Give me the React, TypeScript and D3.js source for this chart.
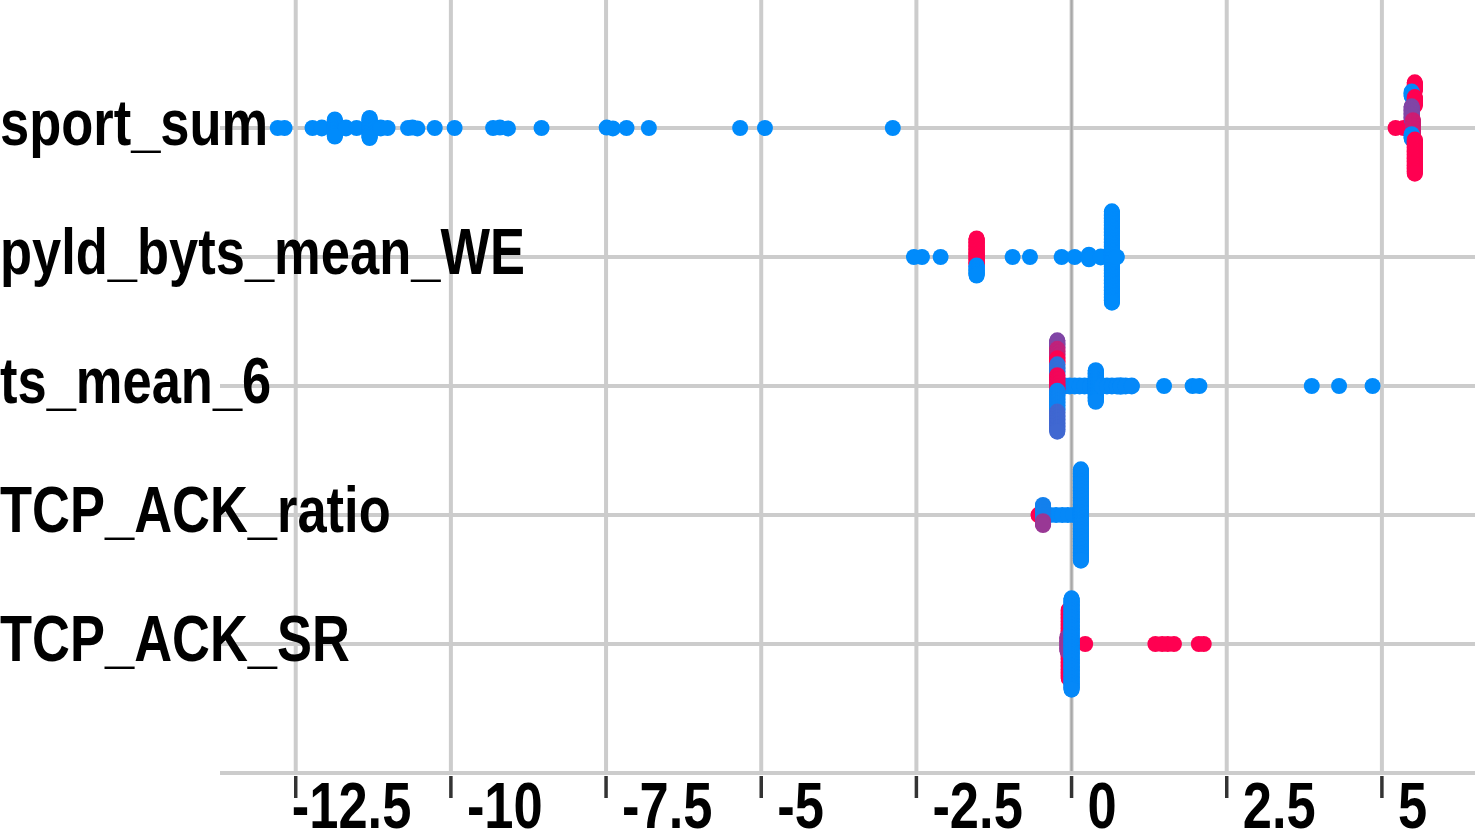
import * as d3 from "d3";

const features = ["sport_sum", "pyld_byts_mean_WE", "ts_mean_6", "TCP_ACK_ratio", "TCP_ACK_SR"];
const xTicks = [-12.5, -10, -7.5, -5, -2.5, 0, 2.5, 5];
const xTickLabels = ["-12.5", "-10", "-7.5", "-5", "-2.5", "0", "2.5", "5"];

// [shap value, feature value (0 = low, 1 = high), number of samples]
// groups that land in one bin are stacked top to bottom in the order listed
const sportSum = [
  [-12.79, 0, 1], [-12.68, 0, 1],
  [-12.23, 0, 1], [-12.08, 0, 2], [-11.87, 0, 23], [-11.69, 0, 2], [-11.52, 0, 1],
  [-11.31, 0, 27], [-11.13, 0, 2], [-11.02, 0, 1],
  [-10.69, 0, 1], [-10.62, 0, 1], [-10.54, 0, 1], [-10.26, 0, 1], [-9.94, 0, 1],
  [-9.32, 0, 1], [-9.21, 0, 1], [-9.08, 0, 1], [-8.54, 0, 1],
  [-7.49, 0, 1], [-7.39, 0, 1], [-7.17, 0, 1], [-6.81, 0, 1],
  [-5.34, 0, 1], [-4.94, 0, 1], [-2.88, 0, 1],
  [5.22, 1, 1], [5.35, 1, 1],
  [5.53, 1, 12], [5.48, 0, 7], [5.53, 1, 12], [5.48, 0.5, 18], [5.5, 0.8, 18], [5.48, 0, 7], [5.53, 1, 45],
];
const pyldBytsMeanWE = [
  [-2.54, 0, 1], [-2.41, 0, 1], [-2.11, 0, 1],
  [-1.53, 1, 35], [-1.53, 0, 14],
  [-0.95, 0, 1], [-0.67, 0, 1], [-0.16, 0, 1], [0.05, 0, 1], [0.28, 0, 7], [0.47, 0, 2],
  [0.65, 0, 119], [0.73, 0, 1],
];
const tsMean6 = [
  [-0.11, 0.02, 2], [-0.03, 0.02, 2], [0.05, 0.02, 2], [0.13, 0.02, 2], [0.21, 0.02, 2], [0.3, 0.02, 2],
  [0.39, 0.02, 42],
  [0.49, 0.02, 2], [0.57, 0.02, 2], [0.65, 0.02, 2], [0.73, 0.02, 2], [0.79, 0.02, 3], [0.87, 0.02, 2], [0.97, 0.02, 2],
  [1.49, 0, 1], [1.95, 0, 1], [2.06, 0, 1], [3.87, 0, 1], [4.31, 0, 1], [4.85, 0, 1],
  [-0.23, 0.5, 11], [-0.23, 0.75, 12], [-0.23, 1, 8], [-0.23, 0.2, 14], [-0.23, 0.95, 20], [-0.23, 0.05, 27], [-0.23, 0.25, 27],
];
const tcpAckRatio = [
  [-0.53, 1, 2],
  [-0.35, 0.02, 1], [-0.25, 0.02, 1], [-0.15, 0.02, 1], [-0.06, 0.02, 1], [0.03, 0.02, 1],
  [-0.46, 0.08, 21], [-0.46, 0.6, 6],
  [0.15, 0.02, 119],
];
const tcpAckSR = [
  [-0.045, 1, 90], [-0.065, 0.6, 20],
  [0.22, 1, 1], [1.35, 1, 1], [1.46, 1, 1], [1.55, 1, 1], [1.65, 1, 1], [2.05, 1, 1], [2.13, 1, 1],
  [0, 0.02, 119],
];
const featureData = [sportSum, pyldBytsMeanWE, tsMean6, tcpAckRatio, tcpAckSR];

const W = 1475;
const H = 829;
const FONT = "'Liberation Sans', Arial, sans-serif";

const color = d3.interpolateRgb("#008bfb", "#ff0051");

// shap-style beeswarm: quantize into 100 bins, stack each bin, scale to 0.9 * row_height
function swarm(groups, row) {
  const pts = [];
  groups.forEach(([v, c, n]) => {
    for (let i = 0; i < n; i++) pts.push({ v, c, row, off: 0, dy: 0 });
  });
  const lo = d3.min(pts, (p) => p.v);
  const hi = d3.max(pts, (p) => p.v);
  const bins = d3.group(pts, (p) => Math.round((100 * (p.v - lo)) / (hi - lo + 1e-8)));
  let maxOff = 0;
  bins.forEach((list) => {
    list.forEach((p, k) => {
      p.off = (list.length - 1) / 2 - k;
      maxOff = Math.max(maxOff, Math.abs(p.off));
    });
  });
  pts.forEach((p) => {
    p.dy = (p.off * 0.9 * 0.4) / (maxOff + 1);
  });
  return pts;
}

export default function App() {
  const x = d3.scaleLinear().domain([-13.72, 6.5]).range([220, 1475]);
  const y = d3.scaleLinear().domain([0, features.length - 1]).range([128, 644]);
  const axisY = 773;

  const points = featureData.flatMap((g, i) => swarm(g, i));

  return (
    <div style={{ position: "absolute", left: 0, top: 0 }}>
      <svg width={W} height={H} style={{ display: "block", background: "#fff" }}>
        {/* horizontal grid */}
        {features.map((f, i) => (
          <line key={f} x1={220} x2={W} y1={y(i)} y2={y(i)} stroke="#cccccc" strokeWidth={4} />
        ))}
        {/* vertical grid */}
        {xTicks.map((t) => (
          <line key={t} x1={x(t)} x2={x(t)} y1={0} y2={axisY - 2} stroke="#cccccc" strokeWidth={4} />
        ))}
        <line x1={x(0)} x2={x(0)} y1={0} y2={axisY - 2} stroke="#a8a8a8" strokeWidth={2} />
        {/* x axis */}
        <line x1={220} x2={W} y1={axisY} y2={axisY} stroke="#cccccc" strokeWidth={4} />
        {xTicks.map((t) => (
          <line key={t} x1={x(t)} x2={x(t)} y1={776} y2={798} stroke="#333333" strokeWidth={3.5} />
        ))}
        {/* dots */}
        {points.map((p, k) => (
          <circle key={k} cx={x(p.v)} cy={y(p.row - p.dy)} r={8} fill={color(p.c)} />
        ))}
        {/* feature labels */}
        {features.map((f, i) => (
          <text
            key={f}
            transform={`translate(0,${y(i) + 17}) scale(0.82,1)`}
            fontFamily={FONT}
            fontWeight="bold"
            fontSize={64}
            fill="#000"
          >
            {f}
          </text>
        ))}
        {/* tick labels */}
        {xTicks.map((t, i) => (
          <text
            key={t}
            transform={`translate(${x(t) + (i === 0 ? -4 : 16)},828) scale(0.82,1)`}
            fontFamily={FONT}
            fontWeight="bold"
            fontSize={64}
            fill="#000"
          >
            {xTickLabels[i]}
          </text>
        ))}
      </svg>
    </div>
  );
}
